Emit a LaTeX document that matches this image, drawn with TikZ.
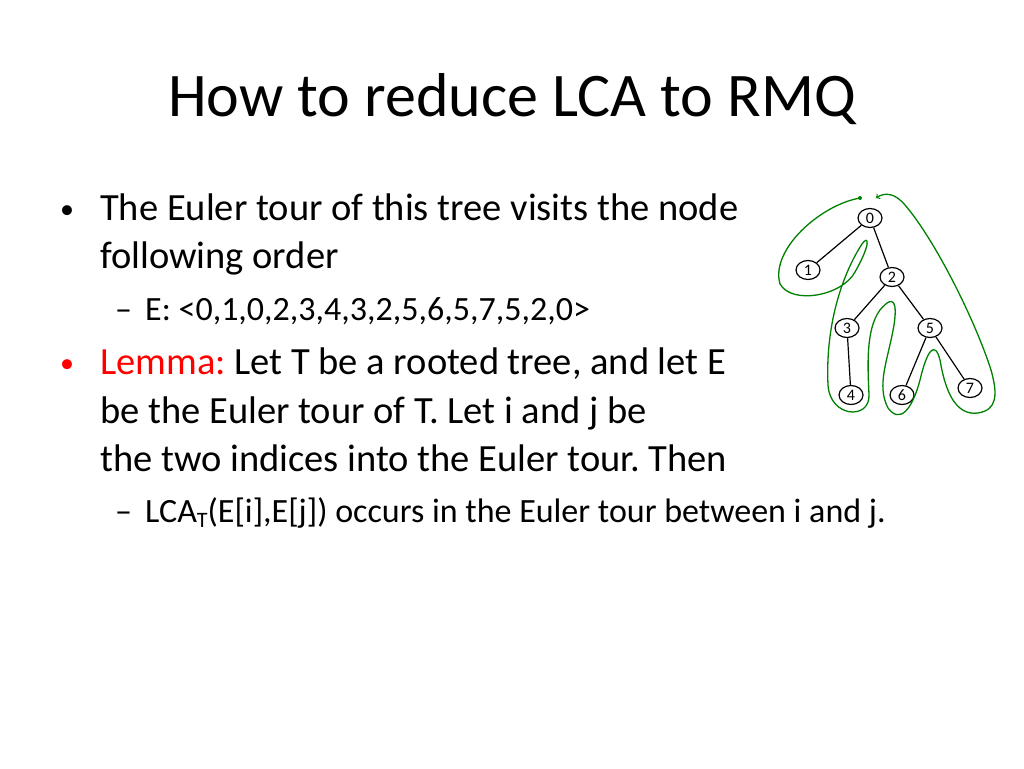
\documentclass[tikz,border=0pt]{standalone}
\usepackage{fontspec}
\setmainfont{Carlito}
\usetikzlibrary{shapes.geometric}
\frenchspacing
\begin{document}
\begin{tikzpicture}[x=1pt,y=-1pt,
 tn/.style={draw,line width=1.2pt,ellipse,minimum width=24pt,minimum height=19pt,inner sep=0pt,font=\fontsize{16}{16}\selectfont},
 tour/.style={draw=green!50!black,line width=1.3pt},
 txt/.style={anchor=base west,inner sep=0pt,font=\fontsize{38.5}{38.5}\selectfont},
 stxt/.style={anchor=base west,inner sep=0pt,font=\fontsize{34}{34}\selectfont}]
\useasboundingbox (0,0) rectangle (1024,768);
\node[anchor=base,inner sep=0pt,font=\fontsize{62}{62}\selectfont] (title) at (512,116) {How to reduce LCA to RMQ};
\node[txt,font=\fontsize{28}{28}\selectfont] (b1) at (60,218) {\textbullet};
\node[txt] (l1) at (100,220) {The Euler tour of this tree visits the node};
\node[txt] (l2) at (100,268) {following order};
\node[stxt] (d1) at (115,320) {–};
\node[stxt] (l3) at (145,320) {E: <0,1,0,2,3,4,3,2,5,6,5,7,5,2,0>};
\node[txt,text=red,font=\fontsize{28}{28}\selectfont] (b2) at (60,372) {\textbullet};
\node[txt] (l4) at (100,374) {\textcolor{red}{Lemma:} Let T be a rooted tree, and let E};
\node[txt] (l5) at (100,423) {be the Euler tour of T. Let i and j be};
\node[txt] (l6) at (100,471) {the two indices into the Euler tour. Then};
\node[stxt] (d2) at (115,522) {–};
\node[stxt] (l7) at (145,522) {LCA\raisebox{-0.35ex}{\fontsize{22}{22}\selectfont T}(E[i],E[j]) occurs in the Euler tour between i and j.};
% tree
\node[tn] (n0) at (870,218) {0};
\node[tn] (n1) at (808,270) {1};
\node[tn] (n2) at (892,277) {2};
\node[tn] (n3) at (847,328) {3};
\node[tn] (n5) at (930,328) {5};
\node[tn] (n4) at (851,395) {4};
\node[tn] (n6) at (902,395) {6};
\node[tn] (n7) at (970,388) {7};
\draw[line width=1.2pt] (n0)--(n1) (n0)--(n2) (n2)--(n3) (n2)--(n5) (n3)--(n4) (n5)--(n6) (n5)--(n7);
\coordinate (s) at (860,198);
\coordinate (e) at (876,198);
\fill[green!50!black] (s) circle (2pt);
\draw[tour,->] (s) .. controls (820,205) and (770,250) .. (780,284)
 .. controls (792,305) and (842,296) .. (855,272)
 .. controls (872,242) and (868,235) .. (862,244)
 .. controls (845,270) and (825,320) .. (828,385)
 .. controls (830,418) and (870,420) .. (869,395)
 .. controls (868,370) and (865,330) .. (880,310)
 .. controls (895,292) and (897,305) .. (894,325)
 .. controls (888,360) and (876,385) .. (888,408)
 .. controls (900,424) and (912,410) .. (920,380)
 .. controls (927,350) and (935,340) .. (940,360)
 .. controls (945,390) and (955,416) .. (978,413)
 .. controls (997,410) and (998,395) .. (991,370)
 .. controls (975,320) and (935,240) .. (905,205)
 .. controls (895,193) and (885,192) .. (e);
\end{tikzpicture}
\end{document}
